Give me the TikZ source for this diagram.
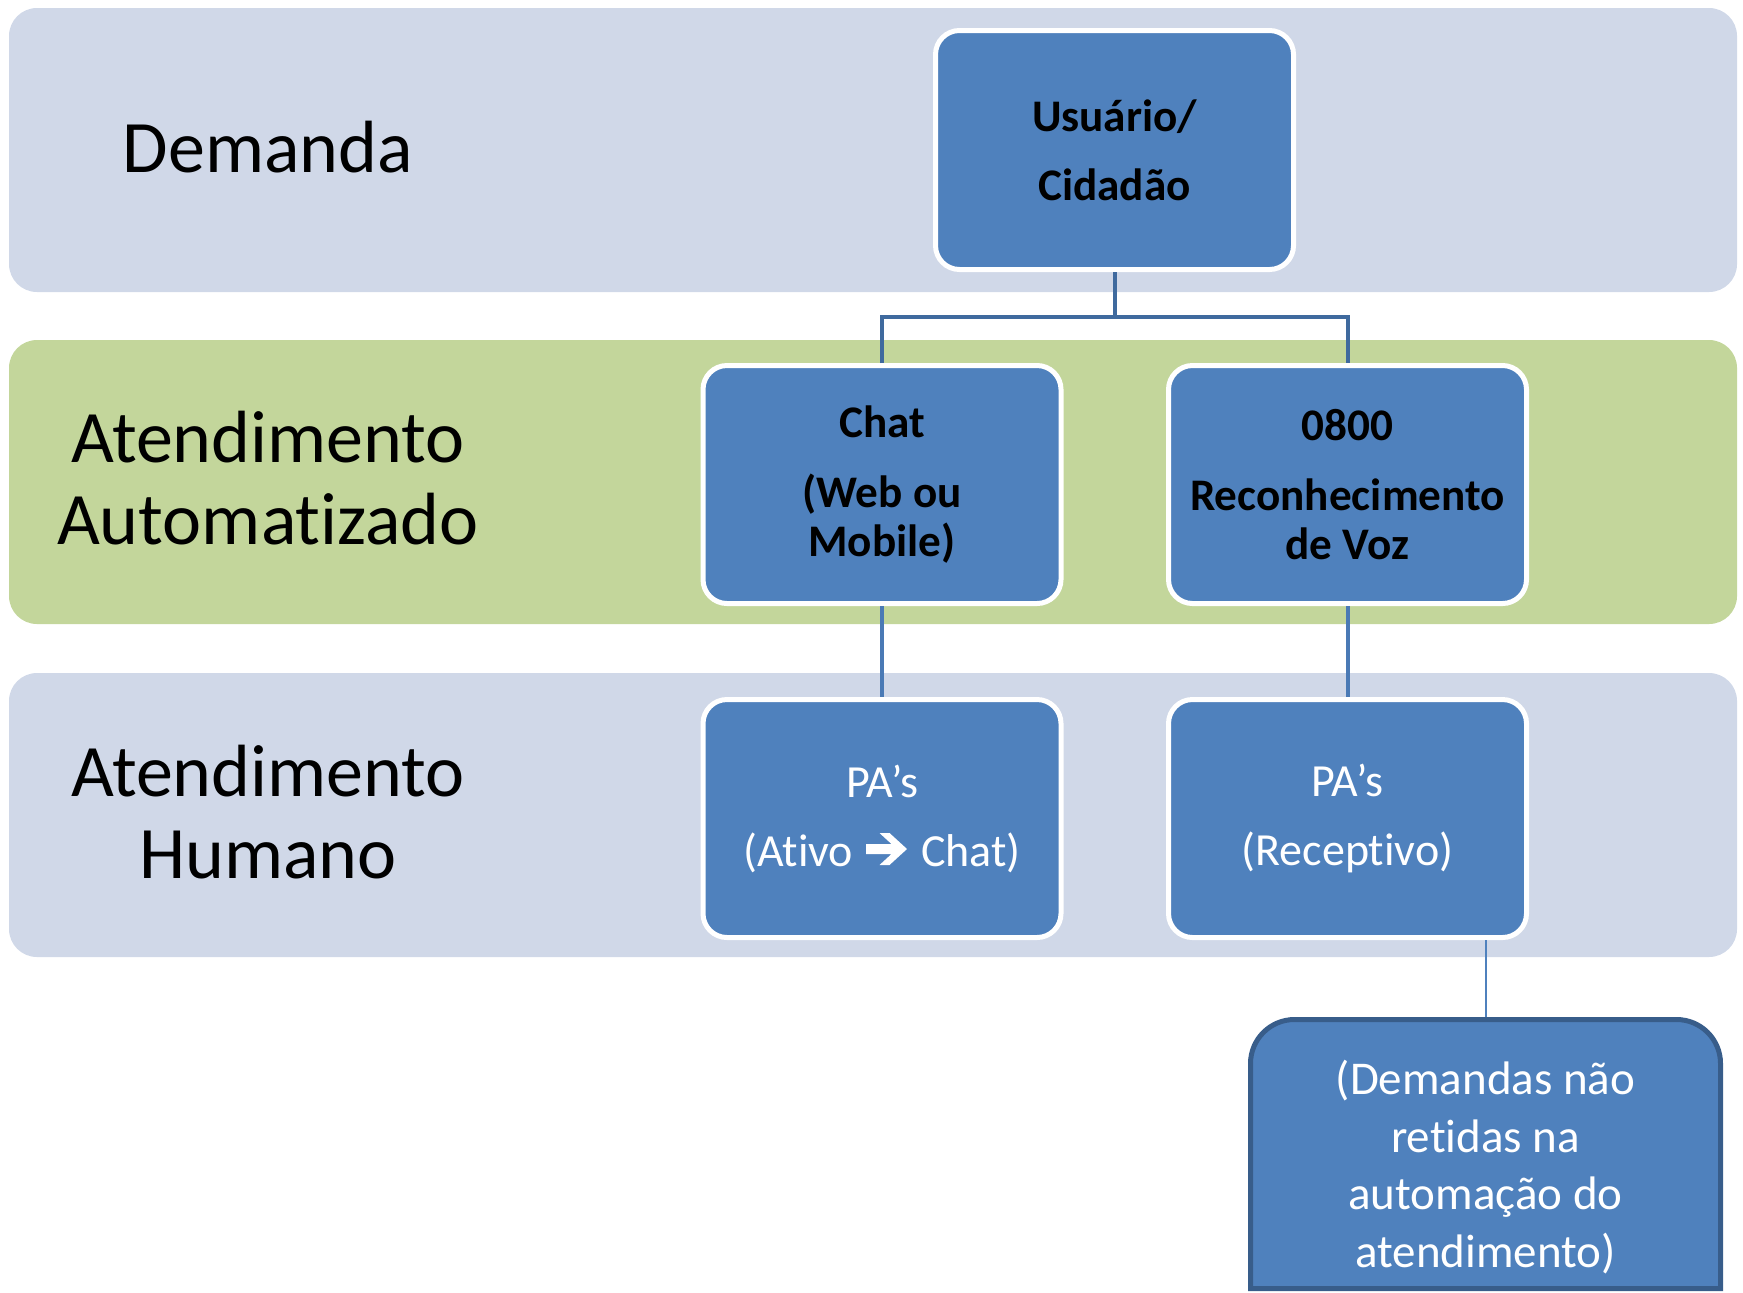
\documentclass[tikz,border=0pt]{standalone}
\usepackage{fontspec}
\setmainfont{Carlito}[Ligatures={NoCommon,NoContextual}]
\usetikzlibrary{backgrounds}
\definecolor{bandblue}{HTML}{D0D8E8}
\definecolor{bandgreen}{HTML}{C3D69B}
\definecolor{boxblue}{HTML}{4F81BD}
\definecolor{linkdark}{HTML}{3F6A9E}
\definecolor{linkmid}{HTML}{4A7AB5}
\definecolor{edgedark}{HTML}{385D8A}
\begin{document}
\begin{tikzpicture}[x=0.5pt,y=-0.5pt,
  lanefill/.style={rounded corners=14pt},
  lanelabel/.style={font=\fontsize{37pt}{40.75pt}\selectfont, align=center, text=black, inner sep=0pt},
  boldbox/.style={draw=white, line width=2.5pt, fill=boxblue, rounded corners=12pt,
    minimum width=179pt, minimum height=119pt, align=center, inner sep=0pt,
    font=\fontsize{22.6pt}{24.5pt}\selectfont\bfseries, text=black},
  plainbox/.style={boldbox, font=\fontsize{23pt}{27pt}\selectfont, text=white},
  extrashape/.style={minimum width=235pt, minimum height=134.5pt, outer sep=0pt, inner sep=0pt},
  extratext/.style={inner sep=0pt, align=center, text=white, font=\fontsize{23.5pt}{28.7pt}\selectfont},
  link/.style={draw=linkdark, line width=2pt},
  linkb/.style={draw=linkmid, line width=2pt},
  thinlink/.style={draw=boxblue, line width=1pt}
]
\useasboundingbox (0,0) rectangle (1743,1292);

% lane labels
\node[lanelabel] (demanda) at (268,147) {Demanda};
\node[lanelabel] (auto) at (268,478) {Atendimento\\Automatizado};
\node[lanelabel] (humano) at (268,812) {Atendimento\\Humano};

% boxes
\node[boldbox, minimum height=119.5pt] (user) at (1114.5,150) {Usuário/\\[10pt]Cidadão};
\node[boldbox] (chat) at (882,484.5) {Chat\\[10.5pt](Web ou\\Mobile)};
\node[boldbox] (voz) at (1347.5,484.5) {0800\\[10.5pt]Reconhecimento\\de Voz};
\node[plainbox] (pa1) at (882,818.5) {PA’s\\[7.5pt](Ativo\hspace{34pt}Chat)};
\node[plainbox] (pa2) at (1347.5,818.5) {PA’s\\[7.5pt](Receptivo)};
\node[extrashape] (extra) at (1485.5,1154) {};
\node[extratext] (extranote) at ([yshift=-6.5pt]extra.center) {(Demandas não\\retidas na\\automação do\\atendimento)};

% heavy arrow glyph inside "(Ativo -> Chat)"
\begin{scope}[shift={(pa1.center)}, shift={(4.5,30.5)}]
  \fill[white] (-20.5,-5) -- (5,-5) -- (-7,-16) -- (3,-16) -- (20.5,0) -- (3,16)
    -- (-7,16) -- (5,5) -- (-20.5,5) -- cycle;
\end{scope}

% connectors
\draw[link] (user.south) -- ++(0,45) coordinate (split);
\draw[link] (chat.north) |- (split) -| (voz.north);
\draw[linkb] (chat.south) -- (pa1.north);
\draw[linkb] (voz.south) -- (pa2.north);
\draw[thinlink, shorten <=1.25pt] (extra.north) -- (extra.north |- pa2.south);

\begin{scope}[on background layer]
  \fill[bandblue, lanefill] (9,8) rectangle (1737,292);
  \fill[bandgreen, lanefill] (9,340) rectangle (1737,624);
  \fill[bandblue, lanefill] (9,673) rectangle (1737,957);
  \draw[draw=edgedark, fill=boxblue, line width=2.5pt]
    (extra.south east) -- (extra.south west) [rounded corners=22pt] -- (extra.north west)
    -- (extra.north east) [sharp corners] -- cycle;
\end{scope}
\end{tikzpicture}
\end{document}
